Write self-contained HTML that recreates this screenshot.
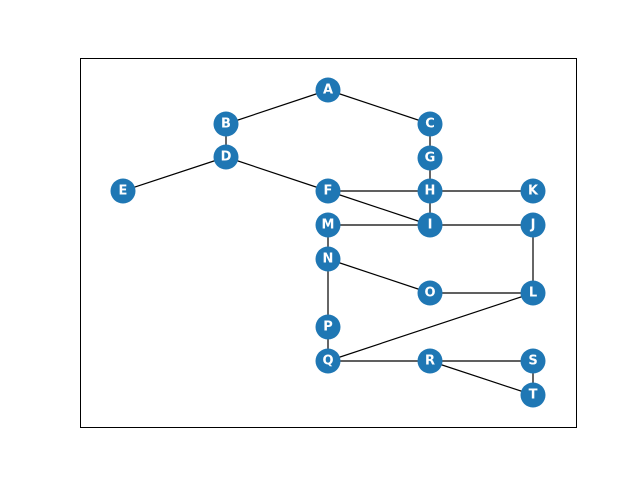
<!DOCTYPE html>
<html><head><meta charset="utf-8"><style>body{margin:0;background:#fff}svg{display:block}</style></head>
<body>
<svg width="640" height="480" xmlns="http://www.w3.org/2000/svg">
<rect x="80.5" y="58.5" width="496" height="369" fill="none" stroke="#000" stroke-width="1"/>
<g stroke="#000" stroke-width="1.2">
<line x1="328" y1="90" x2="226" y2="124"/>
<line x1="328" y1="90" x2="430" y2="124"/>
<line x1="226" y1="124" x2="226" y2="157"/>
<line x1="430" y1="124" x2="430" y2="158"/>
<line x1="430" y1="158" x2="430" y2="191"/>
<line x1="226" y1="157" x2="123" y2="191"/>
<line x1="226" y1="157" x2="328" y2="191"/>
<line x1="328" y1="191" x2="430" y2="191"/>
<line x1="328" y1="191" x2="430" y2="225"/>
<line x1="430" y1="191" x2="533" y2="191"/>
<line x1="430" y1="191" x2="430" y2="225"/>
<line x1="328" y1="225" x2="430" y2="225"/>
<line x1="430" y1="225" x2="533" y2="225"/>
<line x1="328" y1="225" x2="328" y2="259"/>
<line x1="328" y1="259" x2="430" y2="293"/>
<line x1="430" y1="293" x2="533" y2="293"/>
<line x1="533" y1="225" x2="533" y2="293"/>
<line x1="328" y1="259" x2="328" y2="327"/>
<line x1="328" y1="327" x2="328" y2="361"/>
<line x1="328" y1="361" x2="533" y2="293"/>
<line x1="328" y1="361" x2="430" y2="361"/>
<line x1="430" y1="361" x2="533" y2="361"/>
<line x1="430" y1="361" x2="533" y2="395"/>
<line x1="533" y1="361" x2="533" y2="395"/>
</g>
<g fill="#1f77b4">
<circle cx="328" cy="90" r="12.5"/><circle cx="226" cy="124" r="12.5"/><circle cx="430" cy="124" r="12.5"/>
<circle cx="226" cy="157" r="12.5"/><circle cx="430" cy="158" r="12.5"/><circle cx="123" cy="191" r="12.5"/>
<circle cx="328" cy="191" r="12.5"/><circle cx="430" cy="191" r="12.5"/><circle cx="533" cy="191" r="12.5"/>
<circle cx="328" cy="225" r="12.5"/><circle cx="430" cy="225" r="12.5"/><circle cx="533" cy="225" r="12.5"/>
<circle cx="328" cy="259" r="12.5"/><circle cx="430" cy="293" r="12.5"/><circle cx="533" cy="293" r="12.5"/>
<circle cx="328" cy="327" r="12.5"/><circle cx="328" cy="361" r="12.5"/><circle cx="430" cy="361" r="12.5"/>
<circle cx="533" cy="361" r="12.5"/><circle cx="533" cy="395" r="12.5"/>
</g>
<g fill="#fff" font-family="'DejaVu Sans','Liberation Sans',sans-serif" font-weight="bold" font-size="13" text-anchor="middle" dominant-baseline="central">
<text x="328" y="90">A</text><text x="226" y="124">B</text><text x="430" y="124">C</text>
<text x="226" y="157">D</text><text x="430" y="158">G</text><text x="123" y="191">E</text>
<text x="328" y="191">F</text><text x="430" y="191">H</text><text x="533" y="191">K</text>
<text x="328" y="225">M</text><text x="430" y="225">I</text><text x="533" y="225">J</text>
<text x="328" y="259">N</text><text x="430" y="293">O</text><text x="533" y="293">L</text>
<text x="328" y="327">P</text><text x="328" y="361">Q</text><text x="430" y="361">R</text>
<text x="533" y="361">S</text><text x="533" y="395">T</text>
</g>
</svg>
</body></html>
